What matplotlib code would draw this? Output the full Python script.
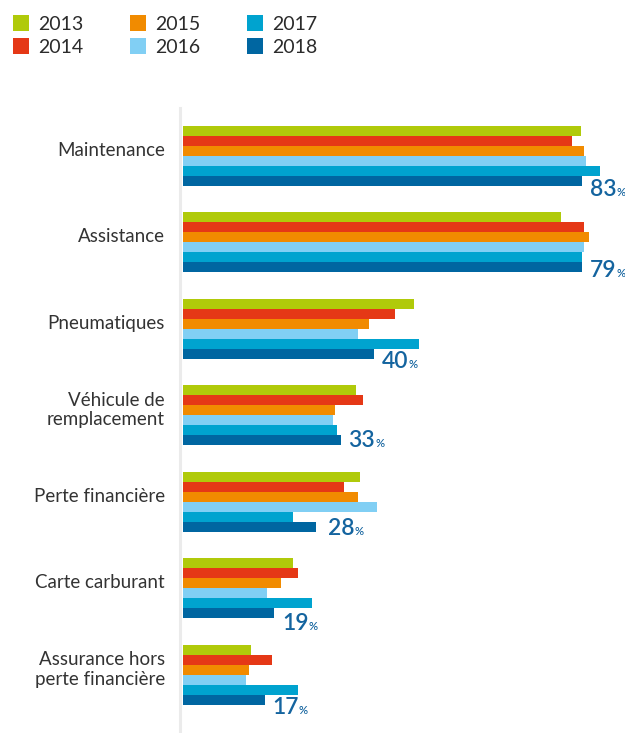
import matplotlib
matplotlib.use('Agg')
import matplotlib.pyplot as plt
from matplotlib.patches import Rectangle
from matplotlib.lines import Line2D

plt.rcParams['font.family'] = ['Lato', 'DejaVu Sans']

# data (bar lengths in %)
categories = ['Maintenance', 'Assistance', 'Pneumatiques', 'Véhicule de\nremplacement',
              'Perte financière', 'Carte carburant', 'Assurance hors\nperte financière']
years = ['2013', '2014', '2015', '2016', '2017', '2018']
v2013 = [83.0, 78.8, 48.1, 36.0, 36.9, 22.9, 14.2]
v2014 = [81.0, 83.5, 44.2, 37.5, 33.5, 24.0, 18.5]
v2015 = [83.5, 84.6, 38.8, 31.7, 36.5, 20.4, 13.8]
v2016 = [84.0, 83.5, 36.5, 31.2, 40.4, 17.5, 13.1]
v2017 = [86.9, 83.1, 49.2, 32.1, 22.9, 26.9, 24.0]
v2018 = [83.1, 83.2, 39.8, 33.0, 27.7, 19.0, 17.1]
labels_2018 = ['83', '79', '40', '33', '28', '19', '17']

series = [v2013, v2014, v2015, v2016, v2017, v2018]
colors = ['#b0ca0a', '#e53816', '#f18b00', '#81cff4', '#00a3cf', '#0066a1']

W, H = 625, 733
fig = plt.figure(figsize=(W / 100, H / 100), dpi=100)

# axes: left edge at the bar origin, top at the grey rule
px_per_unit = 4.8
group_px = 86.5
bar_h = 10 / group_px
ax = fig.add_axes([183 / W, 0, 442 / W, (H - 108) / H])
ax.set_xlim(0, 442 / px_per_unit)
ax.set_ylim(6 + (H - 674.5) / group_px, -(155.5 - 108) / group_px)
ax.axis('off')

for j, vals in enumerate(series):
    ys = [i + (j - 2.5) * bar_h for i in range(len(categories))]
    ax.barh(ys, vals, height=bar_h, color=colors[j], linewidth=0)

# grey vertical rule
fig.add_artist(Line2D([180 / W, 180 / W], [0, (H - 108) / H], transform=fig.transFigure,
                      color='#ebebeb', lw=2.2))

# category names
for i, c in enumerate(categories):
    ax.text(-18 / 442, i - 5 / group_px, c, transform=ax.get_yaxis_transform(),
            ha='right', va='center', fontsize=13.5, color='#333333', linespacing=1.15)

# value labels for 2018 (hand placed in the original)
dx_px = [8, 8, 8, 7, 11.7, 8, 7]
dy_px = [15.5, 10, 14, 7, 8.3, 17, 14.3]
renderer = fig.canvas.get_renderer()
lab_color = '#14649f'
for i, lab in enumerate(labels_2018):
    y = i + 2.5 * bar_h
    t = ax.annotate(lab, xy=(v2018[i], y), xytext=(dx_px[i] * 0.72, -dy_px[i] * 0.72),
                    textcoords='offset points', ha='left', va='baseline',
                    fontsize=16.5, fontweight='semibold', color=lab_color)
    w = t.get_window_extent(renderer).width * 0.72
    ax.annotate('%', xy=(v2018[i], y), xytext=(dx_px[i] * 0.72 + w, -dy_px[i] * 0.72),
                textcoords='offset points', ha='left', va='baseline',
                fontsize=8, fontweight='semibold', color=lab_color)

# legend, drawn by hand: two rows, three columns
col_x = [13, 130, 247]
row_y = [15, 38]
for k, yr in enumerate(years):
    cx = col_x[k // 2]
    ry = row_y[k % 2]
    fig.add_artist(Rectangle((cx / W, 1 - (ry + 16) / H), 16 / W, 16 / H,
                             transform=fig.transFigure, color=colors[k], lw=0))
    fig.text((cx + 25) / W, 1 - (ry + 15) / H, yr, ha='left', va='baseline',
             fontsize=14, color='#2b2b2b')

fig.savefig('out.png', dpi=100)
